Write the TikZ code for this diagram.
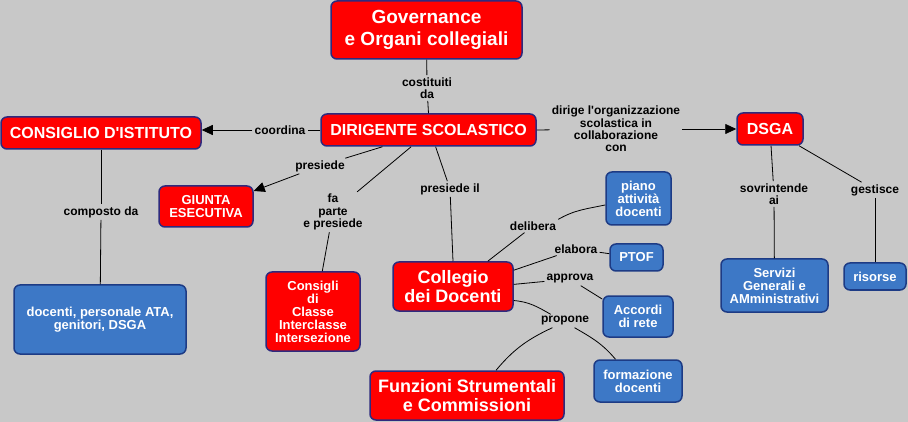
\documentclass[tikz,border=0pt]{standalone}
\usepackage{fontspec}
\newfontfamily\lsans{Liberation Sans}
\usetikzlibrary{arrows.meta}
\definecolor{bg}{HTML}{C8C8C8}
\definecolor{redfill}{HTML}{FF0000}
\definecolor{redline}{HTML}{2E2A7E}
\definecolor{bluefill}{HTML}{3D78C6}
\definecolor{blueline}{HTML}{1D3B85}
\tikzset{
  box/.style={draw, line width=1.5pt, rounded corners=6pt, align=center, inner sep=0pt, text=white},
  redbox/.style={box, fill=redfill, draw=redline},
  bluebox/.style={box, fill=bluefill, draw=blueline},
  fbig/.style={font=\lsans\fontsize{19}{22}\selectfont\bfseries},
  fmid/.style={font=\lsans\fontsize{16}{18}\selectfont\bfseries},
  fcol/.style={font=\lsans\fontsize{18}{19}\selectfont\bfseries},
  fsml/.style={font=\lsans\fontsize{13}{13}\selectfont\bfseries},
  lab/.style={align=center, inner sep=2pt, text=black, font=\lsans\fontsize{12}{12.4}\selectfont\bfseries},
  conn/.style={draw=black, line width=0.8pt},
  arr/.style={conn, -{Triangle[length=11pt,width=10pt]}}
}
\begin{document}
\begin{tikzpicture}[x=1pt,y=-1pt]
\fill[bg] (0,0) rectangle (908,422);
\useasboundingbox (0,0) rectangle (908,422);
% concepts
\node[redbox, fbig, minimum width=191, minimum height=58] (gov) at (426.5,30) {Governance\\e Organi collegiali};
\node[redbox, fmid, minimum width=215, minimum height=32] (dir) at (428.5,130) {DIRIGENTE SCOLASTICO};
\node[redbox, fmid, minimum width=200, minimum height=32] (ci) at (101,133) {CONSIGLIO D'ISTITUTO};
\node[redbox, fmid, minimum width=66, minimum height=32] (dsga) at (770,129) {DSGA};
\node[redbox, fsml, minimum width=94, minimum height=41] (giunta) at (206,206.5) {GIUNTA\\ESECUTIVA};
\node[redbox, fsml, minimum width=94, minimum height=79] (cons) at (313,311.5) {Consigli\\di\\Classe\\Interclasse\\Intersezione};
\node[redbox, fcol, minimum width=120, minimum height=49] (coll) at (453,286.5) {Collegio\\dei Docenti};
\node[redbox, fcol, minimum width=194, minimum height=49] (funz) at (467,395.5) {Funzioni Strumentali\\e Commissioni};
\node[bluebox, fsml, minimum width=172, minimum height=69] (comp) at (100,319.5) {docenti, personale ATA,\\genitori, DSGA};
\node[bluebox, fsml, minimum width=65, minimum height=53] (piano) at (638.5,198.5) {piano\\attività\\docenti};
\node[bluebox, fsml, minimum width=53, minimum height=27] (ptof) at (636.5,257.5) {PTOF};
\node[bluebox, fsml, minimum width=70, minimum height=41] (accordi) at (638,316.5) {Accordi\\di rete};
\node[bluebox, fsml, minimum width=88, minimum height=42] (form) at (638,381) {formazione\\docenti};
\node[bluebox, fsml, minimum width=107, minimum height=53] (serv) at (774.5,285.5) {Servizi\\Generali e\\AMministrativi};
\node[bluebox, fsml, minimum width=62, minimum height=27] (ris) at (875,276.5) {risorse};
% linking phrases
\node[lab] (l1) at (427,88) {costituiti\\da};
\node[lab] (l2) at (280,130) {coordina};
\node[lab] (l3) at (616,129) {dirige l'organizzazione\\scolastica in\\collaborazione\\con};
\node[lab] (l4) at (320,166) {presiede};
\node[lab] (l5) at (333,212) {fa\\parte\\e presiede};
\node[lab] (l6) at (450,189) {presiede il};
\node[lab] (l7) at (101,212) {composto da};
\node[lab] (l8) at (774,194) {sovrintende\\ai};
\node[lab] (l9) at (875,190) {gestisce};
\node[lab] (l10) at (533,226) {delibera};
\node[lab] (l11) at (576,249) {elabora};
\node[lab] (l12) at (570,279) {approva};
\node[lab] (l13) at (565,321) {propone};
% connectors
\draw[conn] (gov) -- (l1);
\draw[conn] (l1) -- (dir.north);
\draw[conn] (dir) -- (l2);
\draw[arr] (l2) -- (l2 -| ci.east);
\draw[conn] (dir.east) -- (l3);
\draw[arr] (l3) -- (dsga);
\draw[conn] (dir.200.6) -- (l4);
\draw[arr] (l4) -- (giunta.18);
\draw[conn] (dir.224.1) -- (l5);
\draw[conn] (l5) -- (cons.77.2);
\draw[conn] (dir.-67.9) -- (l6);
\draw[conn] (l6) -- (coll.north);
\draw[conn] (ci) -- (l7);
\draw[conn] (l7) -- (comp);
\draw[conn] (dsga) -- (l8);
\draw[conn] (l8) -- (serv);
\draw[conn] (dsga.-30.6) -- (l9);
\draw[conn] (l9) -- (ris);
\draw[conn] (coll.36.6) -- (l10);
\draw[conn] (l10.north east) to[out=30,in=192] (piano.191.3);
\draw[conn] (coll.15.4) -- (l11);
\draw[conn] (l11) -- (ptof);
\draw[conn] (coll.2.4) -- (l12);
\draw[conn] (l12) -- (accordi.154);
\draw[conn] (coll.-13.6) to[out=-5,in=150] (l13.155);
\draw[conn] (l13.208) to[out=205,in=50] (funz.41.2);
\draw[conn] (l13.-35) to[out=-30,in=130] (form.136.3);
\end{tikzpicture}
\end{document}
